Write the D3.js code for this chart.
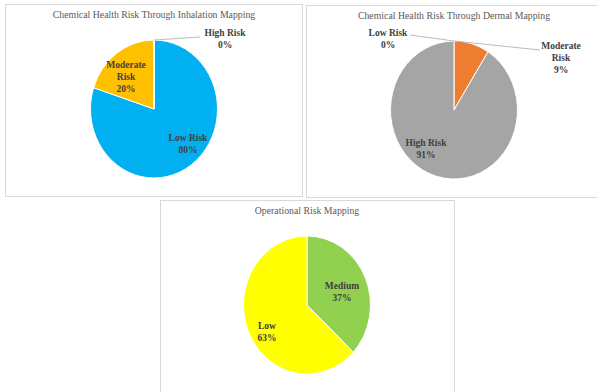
<!DOCTYPE html>
<meta charset="utf-8">
<style>
body { margin: 0; background: #fff; }
svg { display: block; font-family: "Liberation Serif", "Times New Roman", serif; }
</style>
<script src="https://d3js.org/d3.v7.min.js"></script>
<div id="chart"></div>
<script>
// data
var inhalationCats = ["Low Risk", "Moderate Risk", "High Risk"];
var inhalationVals = [80, 20, 0];
var inhalationColors = ["#00B0F0", "#FFC000", "#A5A5A5"];

var dermalCats = ["Low Risk", "Moderate Risk", "High Risk"];
var dermalVals = [0, 9, 91];
var dermalColors = ["#00B0F0", "#ED7D31", "#A5A5A5"];

var operationalCats = ["Medium", "Low"];
var operationalVals = [37, 63];
var operationalColors = ["#92D050", "#FFFF00"];

var W = 597, H = 392;
var svg = d3.select("#chart").append("svg")
    .attr("width", W)
    .attr("height", H);

// layout of each panel: frame, pie centre and label anchors (relative to centre)
var panels = [
  { title: "Chemical Health Risk Through Inhalation Mapping",
    cats: inhalationCats, vals: inhalationVals, colors: inhalationColors,
    frame: [5.5, 4.5, 297, 192], cx: 154, cy: 109, titleY: 16, titleSize: 9.8,
    labels: [
      { lines: ["Low Risk"], dx: 34, dy: 35 },
      { lines: ["Moderate", "Risk"], dx: -28, dy: -32 },
      { lines: ["High Risk"], dx: 71, dy: -70, leader: [46, -72] }
    ] },
  { title: "Chemical Health Risk Through Dermal Mapping",
    cats: dermalCats, vals: dermalVals, colors: dermalColors,
    frame: [306.5, 5.5, 300, 192], cx: 454, cy: 110, titleY: 17, titleSize: 9.8,
    labels: [
      { lines: ["Low Risk"], dx: -66, dy: -71, leader: [-44, -75] },
      { lines: ["Moderate", "Risk"], dx: 107, dy: -52, leader: [86, -60] },
      { lines: ["High Risk"], dx: -28, dy: 39 }
    ] },
  { title: "Operational Risk Mapping",
    cats: operationalCats, vals: operationalVals, colors: operationalColors,
    frame: [160.5, 200.5, 294, 200], cx: 307, cy: 305, titleY: 212, titleSize: 9.8,
    labels: [
      { lines: ["Medium"], dx: 35, dy: -13 },
      { lines: ["Low"], dx: -40, dy: 27 }
    ] }
];

var rx = 63.5, ry = 69;
var pie = d3.pie().sort(null).value(function(d) { return d; });
var arc = d3.arc().innerRadius(0).outerRadius(rx);

panels.forEach(function(p) {
  svg.append("rect")
    .attr("x", p.frame[0]).attr("y", p.frame[1])
    .attr("width", p.frame[2]).attr("height", p.frame[3])
    .attr("fill", "#fff")
    .attr("stroke", "#d9d9d9")
    .attr("stroke-width", 1);

  svg.append("text")
    .attr("x", p.cx).attr("y", p.titleY)
    .attr("text-anchor", "middle")
    .attr("dominant-baseline", "middle")
    .attr("font-size", p.titleSize + "px")
    .attr("fill", "#595959")
    .text(p.title);

  var g = svg.append("g")
    .attr("transform", "translate(" + p.cx + "," + p.cy + ")");

  // slightly taller than wide, like the reference
  g.append("g")
    .attr("transform", "scale(1," + (ry / rx) + ")")
    .selectAll("path")
    .data(pie(p.vals))
    .enter().append("path")
      .attr("d", arc)
      .attr("fill", function(d, i) { return p.colors[i]; })
      .attr("stroke", "#fff")
      .attr("stroke-width", 1)
      .attr("vector-effect", "non-scaling-stroke");

  p.labels.forEach(function(l, i) {
    if (l.leader) {
      g.append("line")
        .attr("x1", 0).attr("y1", -ry)
        .attr("x2", l.leader[0]).attr("y2", l.leader[1])
        .attr("stroke", "#a6a6a6")
        .attr("stroke-width", 0.75);
    }
    var lines = l.lines.concat([p.vals[i] + "%"]);
    var t = g.append("text")
      .attr("text-anchor", "middle")
      .attr("font-size", "9.5px")
      .attr("font-weight", "bold")
      .attr("fill", "#404040");
    lines.forEach(function(s, k) {
      t.append("tspan")
        .attr("x", l.dx)
        .attr("y", l.dy + (k - (lines.length - 1) / 2) * 12)
        .attr("dy", "0.35em")
        .text(s);
    });
  });
});
</script>
